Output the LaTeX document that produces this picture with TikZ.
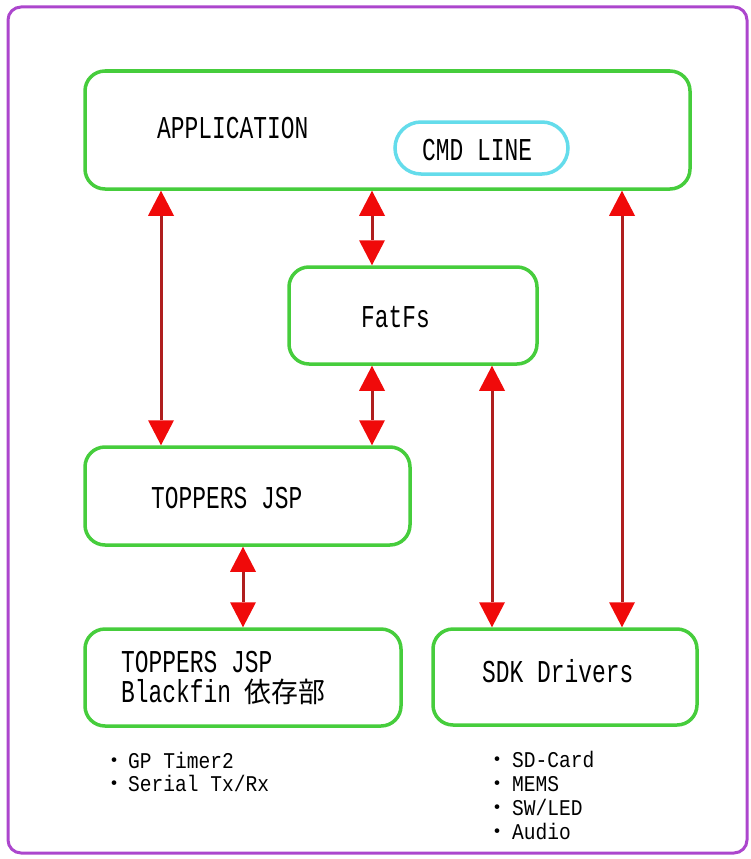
\documentclass[tikz,border=0pt]{standalone}
\usepackage{fontspec}
\usetikzlibrary{arrows.meta}
\newfontfamily\mainf[FakeStretch=0.72]{Liberation Mono}
\newfontfamily\smallf[FakeStretch=0.87]{Liberation Mono}
\newfontfamily\cjkf[FakeStretch=0.96]{Noto Sans CJK JP}
\newfontfamily\cjks{Noto Sans CJK JP}
\definecolor{boxgreen}{RGB}{70,205,60}
\definecolor{pillcyan}{RGB}{100,220,235}
\definecolor{framepurple}{RGB}{172,70,205}
\definecolor{shaftred}{RGB}{175,30,30}
\definecolor{tipred}{RGB}{240,10,10}
\tikzset{
  box/.style={draw=boxgreen, line width=3.5pt, rounded corners=20pt, inner sep=0pt, fill=white},
  pill/.style={draw=pillcyan, line width=3.5pt, rounded corners=26pt, inner sep=0pt},
  mainlbl/.style={inner sep=0pt, anchor=base west, font={\mainf\fontsize{31.8pt}{32pt}\selectfont}},
  smalllbl/.style={inner sep=0pt, anchor=base west, font={\smallf\fontsize{22.5pt}{23pt}\selectfont}},
  biarrow/.style={draw=shaftred, line width=3pt,
    {Triangle[length=25pt,width=26pt,color=tipred,line width=0pt]}-{Triangle[length=25pt,width=26pt,color=tipred,line width=0pt]}},
  frame/.style={draw=framepurple, line width=3pt, rounded corners=13pt}
}
\newcommand{\jdot}{{\cjks\fontsize{22pt}{23pt}\selectfont ・}}
\begin{document}
\begin{tikzpicture}[x=1pt,y=-1pt]
\useasboundingbox (0,0) rectangle (751,859);
\draw[frame] (8,7) rectangle (747,853);

% boxes
\node[box, minimum width=605pt, minimum height=118pt] (app) at (387.5,130) {};
\node[pill, minimum width=173pt, minimum height=52pt] (cmd) at (481.5,148) {};
\node[box, minimum width=248pt, minimum height=97pt] (fat) at (413,315.5) {};
\node[box, minimum width=325pt, minimum height=98pt] (jsp) at (247.5,496) {};
\node[box, minimum width=316pt, minimum height=97pt] (bf) at (243,677.5) {};
\node[box, minimum width=264pt, minimum height=96pt] (sdk) at (565,677) {};

% labels
\node[mainlbl] (tapp) at (157,138) {APPLICATION};
\node[mainlbl] (tcmd) at (422,160) {CMD LINE};
\node[mainlbl] (tfat) at (361,327) {FatFs};
\node[mainlbl] (tjsp) at (151,508) {TOPPERS JSP};
\node[mainlbl] (tbf1) at (121,672) {TOPPERS JSP};
\node[mainlbl] (tbf2) at (121,702) {Blackfin {\cjkf\fontsize{28pt}{32pt}\selectfont 依存部}};
\node[mainlbl] (tsdk) at (482,682) {SDK Drivers};

\node[smalllbl] (l1) at (103,768) {\jdot\hspace{3pt}GP Timer2};
\node[smalllbl] (l2) at (103,791) {\jdot\hspace{3pt}Serial Tx/Rx};
\node[smalllbl] (r1) at (486,767) {\jdot\hspace{4pt}SD-Card};
\node[smalllbl] (r2) at (486,791) {\jdot\hspace{4pt}MEMS};
\node[smalllbl] (r3) at (486,815) {\jdot\hspace{4pt}SW/LED};
\node[smalllbl] (r4) at (486,839) {\jdot\hspace{4pt}Audio};

% arrow x positions
\coordinate (xa) at (161,0);
\coordinate (xb) at (372,0);
\coordinate (xc) at (243,0);
\coordinate (xd) at (492,0);
\coordinate (xe) at (622,0);

\draw[biarrow] (app.south -| xa) -- (jsp.north -| xa);
\draw[biarrow] (app.south -| xb) -- (fat.north -| xb);
\draw[biarrow] (fat.south -| xb) -- (jsp.north -| xb);
\draw[biarrow] (jsp.south -| xc) -- (bf.north -| xc);
\draw[biarrow] (fat.south -| xd) -- (sdk.north -| xd);
\draw[biarrow] (app.south -| xe) -- (sdk.north -| xe);
\end{tikzpicture}
\end{document}
